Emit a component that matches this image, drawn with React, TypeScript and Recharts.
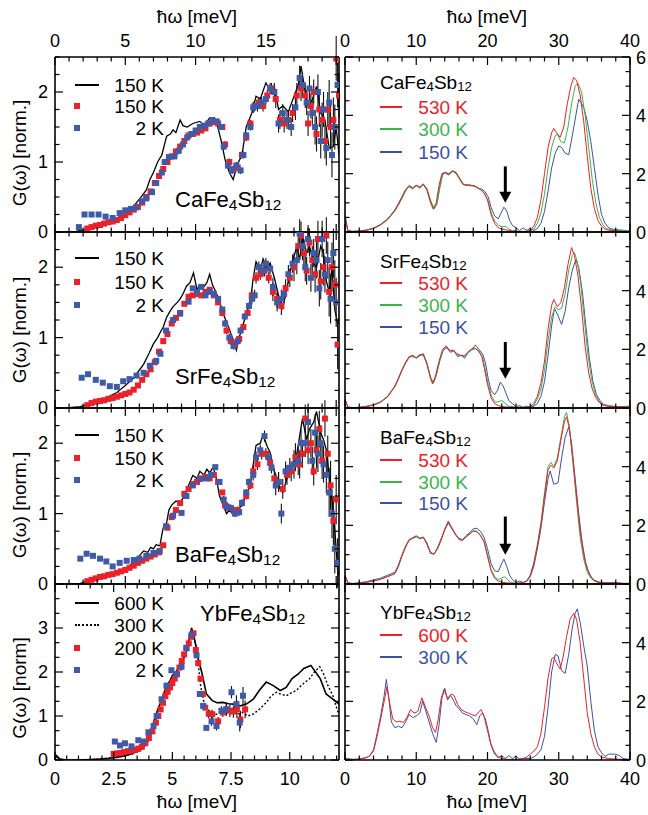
import React from "react";
import { ComposedChart, Line, Scatter, XAxis, YAxis, ReferenceLine, ErrorBar } from "recharts";

type Pt = [number, number];

// ---------- left column: G(w) vs energy, 0..20 meV ----------
const caBlack150: Pt[] = [[0.8,0.0],[1.5,0.01],[2,0.03],[2.5,0.05],[3.2,0.08],[3.7,0.12],[4.4,0.18],[5,0.25],[5.6,0.37],[6.2,0.52],[6.5,0.6],[6.75,0.75],[7,0.85],[7.3,1.0],[7.6,1.1],[7.94,1.37],[8.2,1.4],[8.4,1.46],[8.6,1.42],[8.9,1.6],[9.1,1.52],[9.4,1.5],[9.8,1.55],[10.3,1.58],[10.6,1.52],[11,1.63],[11.3,1.58],[11.5,1.56],[11.8,1.32],[12.1,1.03],[12.4,0.85],[12.67,0.75],[13,0.98],[13.3,1.1],[13.6,1.5],[14,1.7],[14.3,1.94],[14.6,1.9],[15.0,2.13],[15.3,2.03],[15.6,2.08],[15.9,1.75],[16.2,1.8],[16.6,1.72],[17.0,1.94],[17.3,2.1],[17.5,2.37],[17.8,2.0],[18.0,1.8],[18.3,1.89],[18.6,2.08],[18.9,1.7],[19.2,1.6],[19.5,1.2],[19.8,1.22],[20.0,1.5],[20.2,1.1]];
const caRed150: Pt[] = [[2.3,0.05],[2.6,0.07],[2.9,0.09],[3.2,0.1],[3.5,0.12],[3.8,0.14],[4.1,0.15],[4.4,0.17],[4.7,0.2],[5.0,0.24],[5.3,0.28],[5.6,0.32],[5.9,0.36],[6.2,0.42],[6.5,0.5],[6.8,0.58],[7.1,0.7],[7.4,0.8],[7.7,0.9],[8.0,1.0],[8.3,1.08],[8.6,1.15],[8.9,1.22],[9.2,1.3],[9.5,1.38],[9.8,1.4],[10.1,1.42],[10.4,1.45],[10.7,1.48],[11.0,1.55],[11.3,1.57],[11.6,1.55],[11.9,1.5],[12.1,1.25],[12.4,1.0],[12.7,0.9],[13.0,0.92],[13.3,1.1],[13.6,1.35],[13.9,1.55],[14.2,1.8],[14.5,1.85],[14.8,1.8],[15.1,1.95],[15.4,2.05],[15.7,1.9],[16.0,1.6],[16.3,1.55],[16.6,1.6],[16.9,1.7],[17.2,1.95],[17.5,2.05],[17.8,1.95],[18.0,1.55],[18.2,1.8],[18.4,2.0],[18.6,1.4],[18.8,1.75],[19.0,1.6],[19.2,1.3],[19.4,1.75],[19.6,1.5],[19.8,1.6],[20.0,2.48],[20.2,1.95]];
const caBlue2: Pt[] = [[1.7,0.07],[2.1,0.25],[2.6,0.25],[3.1,0.25],[3.6,0.22],[4.1,0.2],[4.6,0.27],[5.0,0.31],[5.4,0.33],[5.75,0.35],[6.2,0.44],[6.5,0.48],[6.9,0.57],[7.2,0.7],[7.6,0.85],[7.8,1.0],[8.1,1.07],[8.5,1.08],[8.8,1.16],[9.1,1.25],[9.4,1.35],[9.7,1.4],[10.0,1.45],[10.3,1.5],[10.6,1.52],[10.9,1.55],[11.2,1.6],[11.5,1.58],[11.8,1.5],[12.0,1.22],[12.3,0.95],[12.6,0.88],[12.9,0.95],[13.2,0.88],[13.4,1.1],[13.6,1.38],[13.9,1.5],[14.1,1.78],[14.4,1.8],[14.7,1.85],[15.0,1.9],[15.3,2.05],[15.6,2.0],[15.9,1.55],[16.2,1.7],[16.5,1.6],[16.8,1.5],[17.1,1.78],[17.4,2.2],[17.6,2.1],[17.9,1.85],[18.1,2.05],[18.3,1.7],[18.5,1.5],[18.7,2.0],[18.9,1.3],[19.1,1.75],[19.3,1.2],[19.5,1.85],[19.7,1.1],[19.9,1.5],[20.1,2.1]];

const srBlack150: Pt[] = [[0.8,0.0],[1.8,0.02],[2.5,0.06],[3.2,0.1],[3.8,0.16],[4.4,0.22],[5.0,0.32],[5.6,0.43],[6.3,0.62],[6.7,0.78],[7.0,0.91],[7.3,1.0],[7.5,1.08],[7.7,1.15],[7.94,1.29],[8.2,1.38],[8.4,1.44],[8.7,1.5],[8.9,1.55],[9.1,1.62],[9.35,1.73],[9.6,1.78],[9.85,1.92],[10.1,1.68],[10.3,1.75],[10.5,1.7],[10.8,1.78],[11.0,1.9],[11.2,1.75],[11.5,1.62],[11.8,1.45],[12.0,1.32],[12.4,1.12],[12.7,0.95],[12.9,0.82],[13.1,1.0],[13.4,1.2],[13.7,1.4],[13.9,1.52],[14.1,1.85],[14.3,2.08],[14.6,1.95],[14.8,2.12],[15.1,1.98],[15.3,2.06],[15.6,1.85],[15.9,1.6],[16.2,1.42],[16.5,1.7],[16.7,1.92],[17.0,2.15],[17.2,2.3],[17.4,2.1],[17.6,2.45],[17.9,2.2],[18.1,2.3],[18.4,2.05],[18.6,2.0],[18.9,2.3],[19.1,2.2],[19.3,1.8],[19.5,1.65],[19.7,2.0],[19.9,1.4],[20.1,1.2],[20.25,1.3]];
const srRed150: Pt[] = [[2.3,0.04],[2.6,0.07],[2.9,0.09],[3.2,0.1],[3.5,0.11],[3.8,0.13],[4.1,0.14],[4.4,0.16],[4.7,0.18],[5.0,0.2],[5.3,0.22],[5.6,0.26],[5.9,0.32],[6.2,0.4],[6.5,0.48],[6.8,0.55],[7.1,0.65],[7.4,0.8],[7.7,0.95],[8.0,1.05],[8.3,1.2],[8.6,1.28],[8.9,1.35],[9.2,1.48],[9.5,1.58],[9.8,1.6],[10.1,1.62],[10.4,1.6],[10.7,1.65],[11.0,1.68],[11.3,1.6],[11.6,1.5],[11.9,1.35],[12.2,1.1],[12.5,0.95],[12.8,0.92],[13.1,0.98],[13.4,1.15],[13.7,1.35],[14.0,1.6],[14.3,1.85],[14.6,1.9],[14.9,1.95],[15.2,1.85],[15.5,1.65],[15.8,1.55],[16.1,1.45],[16.4,1.7],[16.7,1.85],[17.0,2.0],[17.3,2.3],[17.5,2.45],[17.7,2.2],[17.9,1.95],[18.1,2.35],[18.3,2.1],[18.5,1.9],[18.7,2.4],[18.9,1.8],[19.1,2.0],[19.3,2.45],[19.5,1.65],[19.7,2.0],[19.9,1.75],[20.1,0.9]];
const srBlue2: Pt[] = [[1.9,0.43],[2.35,0.48],[2.9,0.4],[3.4,0.36],[3.9,0.31],[4.4,0.3],[4.85,0.38],[5.3,0.41],[5.8,0.46],[6.3,0.5],[6.75,0.6],[7.2,0.67],[7.5,0.77],[7.9,1.1],[8.4,1.25],[8.9,1.34],[9.5,1.51],[9.8,1.7],[10.1,1.65],[10.4,1.72],[10.7,1.6],[11.0,1.65],[11.3,1.62],[11.6,1.55],[11.9,1.4],[12.1,1.2],[12.4,1.0],[12.7,0.88],[13.0,0.95],[13.2,1.1],[13.5,1.3],[13.8,1.45],[14.0,1.55],[14.2,1.6],[14.5,2.0],[14.8,1.95],[15.0,2.05],[15.3,1.98],[15.5,1.72],[15.8,1.5],[16.1,1.55],[16.3,1.62],[16.6,1.9],[16.9,2.05],[17.2,2.1],[17.4,2.48],[17.6,2.3],[17.8,2.0],[18.0,2.4],[18.2,1.85],[18.4,2.2],[18.6,2.1],[18.8,1.7],[19.0,2.4],[19.2,1.9],[19.4,2.1],[19.6,1.55],[19.8,2.2],[20.0,1.5]];

const baBlack150: Pt[] = [[0.8,0.0],[1.8,0.01],[2.5,0.05],[3.2,0.09],[3.8,0.12],[4.4,0.16],[5.0,0.22],[5.6,0.3],[6.0,0.4],[6.3,0.47],[6.6,0.45],[6.8,0.52],[7.0,0.5],[7.2,0.56],[7.46,0.54],[7.6,0.7],[7.7,0.8],[7.94,0.87],[8.1,1.05],[8.3,1.12],[8.6,1.18],[8.9,1.15],[9.1,1.22],[9.4,1.35],[9.6,1.45],[9.8,1.54],[10.1,1.5],[10.3,1.6],[10.6,1.55],[10.8,1.63],[11.0,1.58],[11.25,1.66],[11.5,1.48],[11.7,1.25],[12.0,1.1],[12.2,1.0],[12.4,1.05],[12.7,0.98],[12.9,1.06],[13.2,1.1],[13.4,1.18],[13.7,1.3],[13.9,1.42],[14.1,1.7],[14.3,1.97],[14.6,2.0],[14.8,2.12],[15.1,1.95],[15.3,1.87],[15.6,1.6],[15.8,1.5],[16.0,1.35],[16.2,1.3],[16.5,1.5],[16.7,1.6],[17.0,1.75],[17.2,1.85],[17.4,2.1],[17.6,2.35],[17.9,2.05],[18.1,2.2],[18.4,2.3],[18.6,2.45],[18.9,2.15],[19.1,2.05],[19.3,1.9],[19.5,1.55],[19.7,1.2],[19.85,0.9],[20.0,0.5],[20.1,0.2],[20.25,0.1]];
const baRed150: Pt[] = [[2.3,0.04],[2.6,0.06],[2.9,0.08],[3.2,0.1],[3.5,0.11],[3.8,0.13],[4.1,0.14],[4.4,0.16],[4.7,0.18],[5.0,0.2],[5.3,0.23],[5.6,0.26],[5.9,0.3],[6.2,0.33],[6.5,0.36],[6.8,0.39],[7.1,0.42],[7.4,0.45],[7.7,0.55],[8.0,0.8],[8.3,0.95],[8.6,1.05],[8.9,1.15],[9.2,1.28],[9.5,1.35],[9.8,1.42],[10.1,1.45],[10.4,1.5],[10.7,1.52],[11.0,1.5],[11.3,1.55],[11.6,1.45],[11.9,1.3],[12.1,1.12],[12.4,1.08],[12.7,1.05],[13.0,1.05],[13.3,1.15],[13.6,1.25],[13.9,1.4],[14.1,1.6],[14.4,1.7],[14.7,1.85],[15.0,1.85],[15.3,1.72],[15.6,1.5],[15.9,1.45],[16.2,1.35],[16.5,1.55],[16.8,1.6],[17.1,1.8],[17.4,1.7],[17.6,1.85],[17.8,2.35],[18.0,1.9],[18.2,2.0],[18.4,1.6],[18.6,1.9],[18.8,2.2],[19.0,1.75],[19.2,2.35],[19.4,1.85],[19.6,1.4],[19.8,0.9],[20.0,1.2]];
const baBlue2: Pt[] = [[1.8,0.36],[2.25,0.43],[2.7,0.4],[3.2,0.36],[3.65,0.32],[4.1,0.25],[4.6,0.3],[5.1,0.33],[5.6,0.34],[6.0,0.36],[6.5,0.4],[7.0,0.44],[7.45,0.47],[7.9,0.82],[8.4,0.97],[9.0,1.01],[9.35,1.25],[9.8,1.4],[10.3,1.49],[10.8,1.5],[11.1,1.55],[11.4,1.66],[11.7,1.45],[12.0,1.2],[12.2,1.1],[12.5,1.08],[12.8,1.0],[13.1,1.02],[13.3,1.15],[13.6,1.3],[13.8,1.45],[14.1,1.55],[14.3,1.8],[14.6,1.9],[14.9,2.1],[15.2,1.8],[15.4,1.65],[15.7,1.4],[15.9,1.45],[16.1,1.0],[16.4,1.6],[16.7,1.65],[17.0,1.7],[17.3,1.75],[17.5,2.0],[17.8,2.0],[18.0,2.3],[18.3,1.75],[18.5,2.15],[18.7,1.85],[18.9,2.0],[19.1,1.7],[19.3,1.55],[19.5,1.3],[19.7,1.0],[19.9,0.5],[20.1,0.3]];

// error bar size of the square points, by energy band [from meV, +/- value]
const caErr: Pt[] = [[0,0.02],[9,0.03],[12,0.05],[14,0.08],[15.5,0.13],[17,0.18],[18.5,0.25],[19.5,0.32]];
const srErr: Pt[] = [[0,0.02],[9,0.03],[12,0.05],[14,0.08],[15.5,0.13],[17,0.2],[18.5,0.26],[19.5,0.35]];
const baErr: Pt[] = [[0,0.02],[9,0.03],[12,0.05],[14,0.08],[15.5,0.14],[17,0.2],[18.5,0.26],[19.5,0.35]];
const ybErr: Pt[] = [[0,0.02],[5,0.04],[6,0.06],[6.5,0.1],[7.2,0.14],[7.7,0.2]];

// ---------- YbFe4Sb12, 0..12 meV ----------
const ybBlack600: Pt[] = [[0,0.02],[0.07,0.1],[0.2,0.02],[0.5,0.0],[1.0,0.0],[1.5,0.01],[1.9,0.02],[2.3,0.04],[2.6,0.06],[3.0,0.1],[3.3,0.15],[3.6,0.22],[3.8,0.31],[4.0,0.5],[4.2,0.85],[4.35,1.1],[4.5,1.31],[4.6,1.45],[4.75,1.69],[4.9,1.8],[5.0,1.92],[5.15,2.0],[5.3,2.12],[5.45,2.3],[5.6,2.46],[5.7,2.7],[5.82,3.0],[5.9,2.85],[6.0,2.6],[6.1,2.3],[6.25,2.0],[6.45,1.5],[6.7,1.35],[6.9,1.3],[7.15,1.31],[7.4,1.28],[7.6,1.27],[7.9,1.23],[8.15,1.27],[8.45,1.38],[8.7,1.58],[9.0,1.77],[9.3,1.69],[9.6,1.58],[9.85,1.65],[10.1,1.85],[10.35,1.95],[10.6,2.08],[10.9,2.15],[11.1,2.0],[11.3,1.85],[11.55,1.5],[11.85,1.38],[12.1,1.27]];
const ybDot300: Pt[] = [[0,0.02],[0.07,0.08],[0.2,0.02],[0.5,0.0],[1.0,0.0],[1.5,0.01],[1.9,0.02],[2.3,0.04],[2.6,0.06],[3.0,0.1],[3.3,0.14],[3.6,0.2],[3.8,0.3],[4.0,0.45],[4.2,0.75],[4.4,1.1],[4.6,1.4],[4.8,1.65],[5.0,1.85],[5.2,2.0],[5.4,2.2],[5.6,2.45],[5.75,2.75],[5.9,2.9],[6.0,2.6],[6.1,2.2],[6.2,1.7],[6.35,1.3],[6.5,1.15],[6.7,1.05],[6.88,1.04],[7.1,1.1],[7.3,1.12],[7.59,1.12],[7.8,1.05],[8.0,1.08],[8.2,1.0],[8.44,1.04],[8.7,1.15],[9.01,1.31],[9.2,1.45],[9.43,1.54],[9.6,1.5],[9.86,1.46],[10.05,1.52],[10.28,1.58],[10.5,1.7],[10.85,1.85],[11.05,2.0],[11.28,2.12],[11.45,1.95],[11.63,1.69],[11.84,1.46],[12.06,1.08]];
const ybRed200: Pt[] = [[2.5,0.14],[2.65,0.15],[2.8,0.16],[2.95,0.18],[3.1,0.2],[3.25,0.21],[3.4,0.23],[3.55,0.26],[3.7,0.3],[3.85,0.38],[4.0,0.5],[4.15,0.65],[4.3,0.85],[4.4,1.0],[4.5,1.15],[4.6,1.3],[4.7,1.45],[4.8,1.55],[4.9,1.65],[5.0,1.75],[5.1,1.85],[5.2,1.95],[5.3,2.1],[5.4,2.25],[5.5,2.4],[5.6,2.55],[5.7,2.65],[5.8,2.8],[5.9,2.88],[6.0,2.5],[6.1,2.2],[6.2,1.85],[6.3,1.5],[6.4,1.19],[6.55,1.05],[6.7,1.04],[6.95,0.88],[7.15,1.08],[7.3,1.15],[7.45,1.12],[7.6,1.1],[7.75,1.15],[7.9,0.92],[8.1,1.15]];
const ybBlue2: Pt[] = [[2.55,0.42],[2.77,0.33],[2.98,0.38],[3.26,0.31],[3.55,0.45],[3.77,0.42],[3.98,0.63],[4.2,0.77],[4.33,1.0],[4.54,1.38],[4.75,1.69],[4.96,2.04],[5.18,1.95],[5.39,2.12],[5.6,2.54],[5.82,2.85],[6.03,2.38],[6.17,1.5],[6.31,1.23],[6.45,0.73],[6.67,0.88],[6.88,0.77],[7.09,1.12],[7.3,1.15],[7.52,1.54],[7.73,1.27],[7.87,0.85],[8.01,1.46]];

// ---------- right column: 0..40 meV ----------
const caR530: Pt[] = [[0,0.5],[0.4,0.05],[1,0.02],[2,0.03],[3,0.06],[4,0.12],[5,0.25],[6,0.45],[7,0.75],[7.5,0.95],[8,1.2],[8.5,1.45],[9,1.6],[9.5,1.52],[10,1.6],[10.5,1.55],[11,1.65],[11.5,1.45],[12,1.0],[12.4,0.78],[12.8,1.0],[13.2,1.6],[13.6,2.0],[14,2.05],[14.5,2.0],[15,2.08],[15.5,2.05],[16,1.85],[16.5,1.65],[17,1.6],[17.5,1.62],[18,1.58],[18.5,1.55],[19,1.45],[19.5,1.35],[20,1.1],[20.5,0.6],[21,0.3],[21.5,0.15],[22,0.1],[22.5,0.08],[23,0.05],[24,0.02],[25,0.01],[26,0.05],[26.5,0.2],[27,0.5],[27.5,1.1],[28,2.0],[28.5,2.9],[29,3.4],[29.3,3.55],[29.7,3.4],[30.2,3.25],[30.7,3.6],[31.2,4.4],[31.7,5.0],[32.1,5.3],[32.5,5.2],[33,4.7],[33.5,3.8],[34,2.6],[34.5,1.5],[35,0.8],[35.5,0.4],[36,0.2],[36.5,0.1],[37,0.06],[38,0.04],[39,0.02],[40,0.01]];
const caG300: Pt[] = [[0,0.4],[0.4,0.05],[1,0.02],[2,0.03],[3,0.06],[4,0.12],[5,0.24],[6,0.42],[7,0.72],[7.5,0.92],[8,1.15],[8.5,1.4],[9,1.58],[9.5,1.5],[10,1.58],[10.5,1.52],[11,1.62],[11.5,1.5],[12,1.1],[12.5,0.8],[12.9,0.95],[13.3,1.5],[13.7,1.95],[14.1,2.05],[14.6,1.98],[15.1,2.1],[15.6,2.05],[16.1,1.85],[16.6,1.65],[17.1,1.6],[17.6,1.6],[18.1,1.57],[18.6,1.52],[19.1,1.45],[19.6,1.3],[20.1,1.05],[20.6,0.6],[21.1,0.35],[21.6,0.22],[22.1,0.18],[22.5,0.2],[23,0.1],[23.5,0.05],[24,0.03],[25,0.02],[26,0.03],[26.5,0.1],[27,0.3],[27.5,0.65],[28,1.3],[28.5,2.2],[29,2.9],[29.5,3.3],[29.8,3.35],[30.3,3.1],[30.8,3.05],[31.3,3.6],[31.8,4.4],[32.3,5.0],[32.7,5.1],[33.2,4.8],[33.7,4.0],[34.2,2.9],[34.7,1.8],[35.2,1.0],[35.7,0.5],[36.2,0.25],[36.7,0.12],[37.5,0.07],[38.5,0.05],[39.5,0.03],[40,0.03]];
const caB150: Pt[] = [[0,0.6],[0.4,0.05],[1,0.02],[2,0.03],[3,0.07],[4,0.13],[5,0.26],[6,0.45],[7,0.75],[7.5,0.98],[8,1.2],[8.5,1.45],[9,1.55],[9.5,1.48],[10,1.6],[10.5,1.5],[11,1.62],[11.5,1.45],[12,1.05],[12.5,0.8],[12.9,0.98],[13.3,1.55],[13.7,2.0],[14.1,2.02],[14.6,1.95],[15.1,2.1],[15.6,2.0],[16.1,1.82],[16.6,1.62],[17.1,1.62],[17.6,1.58],[18.1,1.6],[18.6,1.5],[19.1,1.48],[19.6,1.4],[20.1,1.2],[20.5,0.85],[21,0.55],[21.5,0.45],[21.9,0.65],[22.3,0.85],[22.7,0.72],[23.1,0.4],[23.5,0.22],[24,0.15],[24.5,0.05],[25,0.14],[25.5,0.06],[26,0.12],[26.5,0.05],[27,0.12],[27.5,0.3],[28,0.7],[28.5,1.4],[29,2.2],[29.5,2.7],[30,2.95],[30.4,2.9],[30.9,2.7],[31.4,2.65],[31.9,3.3],[32.4,4.0],[32.8,4.55],[33.2,4.4],[33.6,4.2],[34,3.8],[34.5,3.1],[35,2.2],[35.5,1.3],[36,0.6],[36.5,0.3],[37,0.15],[37.5,0.1],[38,0.08],[39,0.06],[40,0.03]];

const srR530: Pt[] = [[0,0.3],[0.4,0.03],[1,0.01],[2,0.02],[3,0.05],[4,0.1],[5,0.2],[6,0.4],[7,0.75],[7.5,1.0],[8,1.3],[8.5,1.55],[9,1.75],[9.5,1.8],[10,1.7],[10.5,1.8],[11,1.85],[11.5,1.5],[12,1.0],[12.3,0.82],[12.7,1.1],[13.2,1.6],[13.7,2.0],[14.2,2.12],[14.7,1.95],[15.2,1.98],[15.7,1.85],[16.2,1.8],[16.7,1.78],[17.2,1.9],[17.7,2.0],[18.2,2.05],[18.7,1.95],[19.2,1.75],[19.6,1.3],[20,0.8],[20.5,0.35],[21,0.15],[21.5,0.08],[22,0.05],[23,0.03],[24,0.02],[25,0.02],[26,0.05],[26.5,0.15],[27,0.4],[27.5,0.85],[28,1.6],[28.5,2.7],[29,3.5],[29.3,3.7],[29.8,3.45],[30.3,3.6],[30.8,4.1],[31.3,4.9],[31.8,5.47],[32.2,5.2],[32.7,4.5],[33.2,3.4],[33.7,2.1],[34.2,1.2],[34.7,0.65],[35.2,0.35],[35.7,0.18],[36.2,0.1],[37,0.05],[38,0.04],[39,0.05],[40,0.03]];
const srG300: Pt[] = [[0,0.3],[0.4,0.03],[1,0.01],[2,0.02],[3,0.05],[4,0.1],[5,0.2],[6,0.38],[7,0.72],[7.5,0.98],[8,1.28],[8.5,1.52],[9,1.72],[9.5,1.78],[10,1.7],[10.5,1.78],[11,1.82],[11.5,1.55],[12,1.05],[12.4,0.85],[12.8,1.1],[13.3,1.6],[13.8,2.0],[14.3,2.08],[14.8,1.95],[15.3,1.95],[15.8,1.8],[16.3,1.78],[16.8,1.75],[17.3,1.88],[17.8,1.98],[18.3,2.02],[18.8,1.95],[19.3,1.75],[19.7,1.3],[20.1,0.8],[20.6,0.38],[21.1,0.2],[21.6,0.22],[22,0.25],[22.5,0.15],[23,0.06],[24,0.03],[25,0.02],[26,0.04],[26.5,0.1],[27,0.3],[27.5,0.65],[28,1.3],[28.5,2.3],[29,3.1],[29.5,3.45],[29.9,3.35],[30.4,3.4],[30.9,3.9],[31.4,4.7],[31.9,5.2],[32.2,5.3],[32.6,5.0],[33.1,4.2],[33.6,3.0],[34.1,1.8],[34.6,1.0],[35.1,0.5],[35.6,0.25],[36.1,0.12],[37,0.06],[38,0.04],[39,0.03],[40,0.08]];
const srB150: Pt[] = [[0,0.3],[0.4,0.03],[1,0.01],[2,0.02],[3,0.06],[4,0.11],[5,0.21],[6,0.4],[7,0.73],[7.5,1.02],[8,1.3],[8.5,1.55],[9,1.75],[9.5,1.75],[10,1.72],[10.5,1.82],[11,1.8],[11.5,1.5],[12,1.05],[12.4,0.85],[12.8,1.1],[13.3,1.62],[13.8,1.98],[14.3,2.05],[14.8,1.9],[15.3,1.95],[15.8,1.75],[16.3,1.8],[16.8,1.7],[17.3,1.9],[17.8,2.0],[18.3,2.15],[18.8,2.0],[19.3,1.85],[19.7,1.55],[20.1,1.0],[20.5,0.6],[21,0.45],[21.4,0.6],[21.8,0.88],[22.2,0.75],[22.6,0.5],[23,0.25],[23.5,0.15],[24,0.05],[24.5,0.08],[25,0.02],[25.5,0.06],[26,0.03],[26.5,0.06],[27,0.15],[27.5,0.4],[28,0.9],[28.5,1.8],[29,2.8],[29.4,3.4],[29.8,3.2],[30.4,2.85],[30.9,3.3],[31.4,4.1],[31.9,4.7],[32.4,5.06],[32.8,4.8],[33.3,4.0],[33.8,2.8],[34.3,1.7],[34.8,0.9],[35.3,0.45],[35.8,0.25],[36.3,0.12],[37,0.08],[38,0.05],[39,0.03],[40,0.02]];

const baR530: Pt[] = [[0,0.3],[0.4,0.03],[1,0.01],[2,0.03],[3,0.06],[4,0.1],[5,0.16],[6,0.25],[6.5,0.3],[7,0.35],[7.5,0.6],[8,0.95],[8.5,1.25],[9,1.5],[9.5,1.55],[10,1.62],[10.5,1.55],[11,1.58],[11.5,1.35],[12,1.05],[12.5,1.02],[13,1.2],[13.5,1.5],[14,1.85],[14.5,2.12],[15,1.9],[15.5,1.7],[16,1.52],[16.5,1.48],[17,1.6],[17.5,1.7],[18,1.8],[18.5,1.78],[19,1.65],[19.5,1.45],[20,0.95],[20.5,0.45],[21,0.2],[21.5,0.1],[22,0.06],[23,0.03],[24,0.02],[25,0.05],[25.5,0.1],[26,0.3],[26.5,0.7],[27,1.3],[27.5,2.0],[28,3.0],[28.5,3.9],[28.9,4.05],[29.3,3.95],[29.8,4.2],[30.3,4.9],[30.8,5.55],[31.1,5.7],[31.5,5.3],[32,4.2],[32.5,3.0],[33,1.8],[33.5,1.0],[34,0.5],[34.5,0.25],[35,0.12],[35.5,0.06],[36,0.04],[37,0.03],[38,0.05],[39,0.02],[40,0.02]];
const baG300: Pt[] = [[0,0.3],[0.4,0.03],[1,0.01],[2,0.03],[3,0.06],[4,0.1],[5,0.17],[6,0.26],[6.5,0.31],[7,0.37],[7.5,0.62],[8,0.98],[8.5,1.28],[9,1.52],[9.5,1.58],[10,1.65],[10.5,1.57],[11,1.6],[11.5,1.37],[12,1.05],[12.5,1.02],[13,1.22],[13.5,1.52],[14,1.88],[14.5,2.15],[15,1.92],[15.5,1.7],[16,1.52],[16.5,1.5],[17,1.62],[17.5,1.72],[18,1.82],[18.5,1.8],[19,1.68],[19.5,1.45],[20,1.0],[20.5,0.5],[21,0.25],[21.5,0.15],[22,0.2],[22.4,0.25],[22.8,0.15],[23.3,0.05],[24,0.02],[25,0.04],[25.5,0.1],[26,0.3],[26.5,0.72],[27,1.35],[27.5,2.1],[28,3.1],[28.5,4.0],[28.9,4.15],[29.3,4.0],[29.8,4.3],[30.3,5.0],[30.8,5.7],[31.1,5.85],[31.5,5.35],[32,4.1],[32.5,2.8],[33,1.6],[33.5,0.85],[34,0.4],[34.5,0.2],[35,0.1],[35.5,0.06],[36,0.04],[37,0.04],[38,0.03],[39,0.02],[40,0.02]];
const baB150: Pt[] = [[0,0.3],[0.4,0.04],[1,0.02],[2,0.04],[3,0.08],[4,0.14],[5,0.2],[6,0.3],[6.5,0.35],[7,0.4],[7.5,0.65],[8,1.0],[8.5,1.3],[9,1.5],[9.5,1.58],[10,1.62],[10.5,1.55],[11,1.6],[11.5,1.4],[12,1.08],[12.5,1.02],[13,1.25],[13.5,1.55],[14,1.85],[14.5,2.08],[15,1.88],[15.5,1.68],[16,1.55],[16.5,1.52],[17,1.65],[17.5,1.75],[18,1.88],[18.5,1.9],[19,1.8],[19.5,1.6],[20,1.2],[20.5,0.7],[21,0.45],[21.5,0.42],[22,0.7],[22.3,0.85],[22.7,0.6],[23.1,0.3],[23.5,0.15],[24,0.05],[24.5,0.1],[25,0.05],[25.5,0.1],[26,0.25],[26.5,0.6],[27,1.2],[27.5,1.9],[28,2.8],[28.5,3.6],[28.8,3.85],[29.3,3.4],[29.9,3.45],[30.4,4.3],[30.9,5.0],[31.4,5.35],[31.8,4.8],[32.3,3.6],[32.8,2.4],[33.3,1.4],[33.8,0.7],[34.3,0.35],[34.8,0.15],[35.5,0.08],[36,0.05],[37,0.04],[38,0.03],[39,0.02],[40,0.02]];

const ybR600: Pt[] = [[0,0.05],[1,0.02],[2,0.03],[3,0.08],[3.5,0.15],[4,0.3],[4.5,0.8],[5,1.4],[5.5,2.0],[5.9,2.5],[6.3,1.9],[6.7,1.4],[7.2,1.3],[7.7,1.32],[8.2,1.28],[8.7,1.45],[9.2,1.72],[9.7,1.6],[10.2,1.65],[10.8,2.12],[11.3,1.8],[11.8,1.5],[12.3,1.1],[12.7,0.94],[13.1,1.4],[13.5,2.1],[13.9,2.4],[14.4,2.1],[14.9,2.25],[15.3,2.2],[15.8,1.9],[16.3,1.72],[16.8,1.65],[17.3,1.6],[17.8,1.55],[18.3,1.5],[18.8,1.65],[19.1,1.72],[19.5,1.5],[19.9,1.1],[20.4,0.6],[20.9,0.3],[21.4,0.12],[22,0.05],[23,0.02],[24,0.02],[25,0.05],[25.5,0.1],[26,0.2],[26.5,0.3],[27,0.45],[27.5,0.9],[28,1.8],[28.5,2.8],[29,3.45],[29.3,3.5],[29.7,3.3],[30.2,3.1],[30.6,3.5],[31.1,4.2],[31.6,4.8],[32.1,5.0],[32.5,4.8],[33,4.0],[33.5,2.8],[34,1.6],[34.5,0.9],[35,0.45],[35.5,0.2],[36,0.1],[37,0.05],[38,0.03],[39,0.02],[40,0.01]];
const ybB300: Pt[] = [[0,0.05],[1,0.02],[2,0.03],[3,0.08],[3.5,0.15],[4,0.35],[4.5,0.9],[5,1.5],[5.5,2.2],[5.8,2.75],[6.2,2.0],[6.5,1.3],[7,1.1],[7.5,1.15],[8,1.1],[8.5,1.3],[9,1.55],[9.5,1.45],[10,1.5],[10.5,1.6],[10.9,2.0],[11.3,1.7],[11.8,1.3],[12.3,0.9],[12.8,0.6],[13.2,1.2],[13.6,2.1],[14,2.45],[14.4,2.05],[14.8,2.2],[15.2,2.05],[15.6,1.85],[16,1.75],[16.5,1.6],[17,1.55],[17.5,1.5],[18,1.4],[18.5,1.2],[18.9,1.5],[19.3,1.6],[19.7,1.4],[20.1,1.0],[20.5,0.5],[21,0.2],[21.5,0.08],[22,0.15],[22.5,0.05],[23,0.15],[23.5,0.05],[24,0.13],[24.5,0.03],[25,0.05],[26,0.05],[26.5,0.1],[27,0.2],[27.5,0.35],[28,0.8],[28.5,1.8],[29,3.0],[29.5,3.6],[29.9,3.55],[30.4,3.05],[30.9,2.95],[31.4,3.6],[31.9,4.5],[32.3,5.0],[32.6,5.15],[33,4.7],[33.5,3.9],[34,3.2],[34.5,2.0],[35,1.0],[35.5,0.45],[36,0.25],[36.5,0.12],[37,0.2],[38,0.2],[38.5,0.15],[39,0.05],[40,0.02]];

// ---------- ticks ----------
const leftXTicks = [0,1,2,3,4,5,6,7,8,9,10,11,12,13,14,15,16,17,18,19,20];
const leftXMajor = [0,5,10,15,20];
const leftXLabels = [0,5,10,15];
const ybXTicks = [0,0.5,1,1.5,2,2.5,3,3.5,4,4.5,5,5.5,6,6.5,7,7.5,8,8.5,9,9.5,10,10.5,11,11.5,12];
const ybXMajor = [0,2.5,5,7.5,10];
const rightXTicks = [0,2,4,6,8,10,12,14,16,18,20,22,24,26,28,30,32,34,36,38,40];
const rightXMajor = [0,10,20,30,40];
const leftYTicks = [0,0.25,0.5,0.75,1,1.25,1.5,1.75,2,2.25,2.5];
const leftYMajor = [0,1,2];
const ybYTicks = [0,1/3,2/3,1,4/3,5/3,2,7/3,8/3,3,10/3,11/3,4];
const ybYMajor = [0,1,2,3,4];
const rightYTicks = [0,0.5,1,1.5,2,2.5,3,3.5,4,4.5,5,5.5,6];
const rightYMajor = [0,2,4,6];

const RED = "#ec2027";
const GREEN = "#3bb44a";
const BLUE = "#3b52a4";
const SQ_BLUE = "#3d5ba9";
const FONT = '"Liberation Sans", Arial, Helvetica, sans-serif';

const LEFT = { x: 55, w: 284 };
const RIGHT = { x: 345, w: 285 };
const ROWS = [
  { y: 57, h: 175 },
  { y: 232, h: 176 },
  { y: 408, h: 176 },
  { y: 584, h: 176 },
];

const toXY = (a: Pt[]) => a.map(([x, y]) => ({ x, y }));
const bandValue = (bands: Pt[], x: number) => {
  let v = bands[0][1];
  for (const [from, e] of bands) if (x >= from) v = e;
  return v;
};
const toXYE = (a: Pt[], bands: Pt[]) => a.map(([x, y]) => ({ x, y, e: bandValue(bands, x) }));
const inList = (arr: number[], v: number) => arr.some((m) => Math.abs(m - v) < 1e-6);

type Side = "top" | "bottom" | "left" | "right";

function tickMaker(side: Side, majors: number[], labels: number[]) {
  return (props: any) => {
    const { x, y, payload } = props;
    const v = payload.value;
    const len = inList(majors, v) ? 8 : 4.5;
    const show = inList(labels, v);
    let mark;
    let text = null;
    const ts = { fontSize: 18, fontFamily: FONT, fill: "#000" };
    if (side === "bottom") {
      mark = <line x1={x} y1={y} x2={x} y2={y - len} />;
      if (show) text = <text x={x} y={y + 25} textAnchor="middle" style={ts}>{String(v)}</text>;
    } else if (side === "top") {
      mark = <line x1={x} y1={y} x2={x} y2={y + len} />;
      if (show) text = <text x={x} y={y - 10} textAnchor="middle" style={ts}>{String(v)}</text>;
    } else if (side === "left") {
      mark = <line x1={x} y1={y} x2={x + len} y2={y} />;
      if (show) text = <text x={x - 7} y={y + 6} textAnchor="end" style={ts}>{String(v)}</text>;
    } else {
      mark = <line x1={x} y1={y} x2={x - len} y2={y} />;
      if (show) text = <text x={x + 6} y={y + 7} textAnchor="start" style={ts}>{String(v)}</text>;
    }
    return (
      <g>
        <g stroke="#000" strokeWidth={1.2}>{mark}</g>
        {text}
      </g>
    );
  };
}

const axisLine = { stroke: "#000", strokeWidth: 1.6 };

interface PanelProps {
  col: { x: number; w: number };
  row: { y: number; h: number };
  xDomain: [number, number];
  yDomain: [number, number];
  xTicks: number[];
  xMajor: number[];
  yTicks: number[];
  yMajor: number[];
  topLabels?: number[];
  bottomLabels?: number[];
  leftLabels?: number[];
  rightLabels?: number[];
  children: React.ReactNode;
}

function Panel({ col, row, xDomain, yDomain, xTicks, xMajor, yTicks, yMajor, topLabels = [], bottomLabels = [], leftLabels = [], rightLabels = [], children }: PanelProps) {
  const M = 50;
  const m = M - 1; // axes take 1px each
  return (
    <div style={{ position: "absolute", left: col.x - M, top: row.y - M }}>
      <ComposedChart width={col.w + 2 * M} height={row.h + 2 * M} margin={{ top: m, right: m, bottom: m, left: m }}>
        <XAxis xAxisId="b" orientation="bottom" type="number" dataKey="x" domain={xDomain} allowDataOverflow ticks={xTicks} interval={0} height={1} tickSize={0} tickMargin={0} axisLine={axisLine} tickLine={false} tick={tickMaker("bottom", xMajor, bottomLabels)} />
        <XAxis xAxisId="t" orientation="top" type="number" dataKey="x" domain={xDomain} allowDataOverflow ticks={xTicks} interval={0} height={1} tickSize={0} tickMargin={0} axisLine={axisLine} tickLine={false} tick={tickMaker("top", xMajor, topLabels)} />
        <YAxis yAxisId="l" orientation="left" type="number" dataKey="y" domain={yDomain} allowDataOverflow ticks={yTicks} interval={0} width={1} tickSize={0} tickMargin={0} axisLine={axisLine} tickLine={false} tick={tickMaker("left", yMajor, leftLabels)} />
        <YAxis yAxisId="r" orientation="right" type="number" dataKey="y" domain={yDomain} allowDataOverflow ticks={yTicks} interval={0} width={1} tickSize={0} tickMargin={0} axisLine={axisLine} tickLine={false} tick={tickMaker("right", yMajor, rightLabels)} />
        {children}
      </ComposedChart>
    </div>
  );
}

const square = (color: string) => (p: any) =>
  p.cx == null || p.cy == null ? <g /> : <rect x={p.cx - 3} y={p.cy - 3} width={6} height={6} fill={color} />;

const line = (key: string, pts: Pt[], color: string, width = 1, dash?: string) => (
  <Line key={key} data={toXY(pts)} dataKey="y" xAxisId="b" yAxisId="l" type="linear" stroke={color} strokeWidth={width} strokeDasharray={dash} dot={false} activeDot={false} isAnimationActive={false} />
);

const dots = (key: string, pts: Pt[], color: string, bands: Pt[]) => (
  <Scatter key={key} data={toXYE(pts, bands)} dataKey="y" xAxisId="b" yAxisId="l" fill={color} shape={square(color)} isAnimationActive={false}>
    <ErrorBar dataKey="e" direction="y" width={0} stroke="#111" strokeWidth={1.1} isAnimationActive={false} />
  </Scatter>
);

const arrowShape = (p: any) => {
  const { x1, y1, x2, y2 } = p;
  return (
    <g>
      <line x1={x1} y1={y1} x2={x2} y2={y2 - 9} stroke="#000" strokeWidth={3} />
      <polygon points={`${x2 - 6},${y2 - 11} ${x2 + 6},${y2 - 11} ${x2},${y2}`} fill="#000" />
    </g>
  );
};

const arrow = (top: number, tip: number) => (
  <ReferenceLine key="arrow" xAxisId="b" yAxisId="l" segment={[{ x: 22.5, y: top }, { x: 22.5, y: tip }]} shape={arrowShape} ifOverflow="visible" />
);

const subStyle: React.CSSProperties = { fontSize: "0.7em", position: "relative", top: "0.2em" };
const Compound = ({ el }: { el: string }) => (
  <>
    {el}Fe<span style={subStyle}>4</span>Sb<span style={subStyle}>12</span>
  </>
);

function Txt({ x, y, size, color = "#000", align = "left", width = 200, children }: { x: number; y: number; size: number; color?: string; align?: "left" | "right" | "center"; width?: number; children: React.ReactNode }) {
  const left = align === "left" ? x : align === "right" ? x - width : x - width / 2;
  const lh = Math.round(size * 1.0);
  return (
    <div style={{ position: "absolute", left, top: y - lh / 2, width, height: lh, lineHeight: `${lh}px`, fontSize: size, color, textAlign: align, whiteSpace: "nowrap", fontFamily: FONT }}>
      {children}
    </div>
  );
}

function LineSwatch({ x, y, w, color, dotted }: { x: number; y: number; w: number; color: string; dotted?: boolean }) {
  if (dotted) return <div style={{ position: "absolute", left: x, top: y - 1, width: w, height: 0, borderTop: `2px dotted ${color}` }} />;
  return <div style={{ position: "absolute", left: x, top: y - 1, width: w, height: 1.6, background: color }} />;
}
function SquareSwatch({ x, y, color }: { x: number; y: number; color: string }) {
  return <div style={{ position: "absolute", left: x - 3, top: y - 3, width: 6, height: 6, background: color }} />;
}

function LeftLegend({ ys, entries }: { ys: number[]; entries: { kind: "line" | "dotted" | "square"; color: string; label: string }[] }) {
  return (
    <>
      {entries.map((e, i) => (
        <React.Fragment key={i}>
          {e.kind === "square" ? <SquareSwatch x={77} y={ys[i]} color={e.color} /> : <LineSwatch x={75} y={ys[i]} w={24} color="#000" dotted={e.kind === "dotted"} />}
          <Txt x={164} y={ys[i]} size={19} align="right" width={62}>{e.label}</Txt>
        </React.Fragment>
      ))}
    </>
  );
}

function RightLegend({ el, ys, entries }: { el: string; ys: number[]; entries: { color: string; label: string }[] }) {
  return (
    <>
      <Txt x={380} y={ys[0]} size={19} width={110}><Compound el={el} /></Txt>
      {entries.map((e, i) => (
        <React.Fragment key={i}>
          <LineSwatch x={380} y={ys[i + 1]} w={22} color={e.color} />
          <Txt x={468} y={ys[i + 1]} size={19} color={e.color} align="right" width={60}>{e.label}</Txt>
        </React.Fragment>
      ))}
    </>
  );
}

export default function App() {
  const leftCommon = { col: LEFT, xDomain: [0, 20.2] as [number, number], yDomain: [0, 2.5] as [number, number], xTicks: leftXTicks, xMajor: leftXMajor, yTicks: leftYTicks, yMajor: leftYMajor, leftLabels: [0, 1, 2] };
  const rightCommon = { col: RIGHT, xDomain: [0, 40] as [number, number], yDomain: [0, 6] as [number, number], xTicks: rightXTicks, xMajor: rightXMajor, yTicks: rightYTicks, yMajor: rightYMajor };
  const leftEntries = [
    { kind: "line" as const, color: "#000", label: "150 K" },
    { kind: "square" as const, color: RED, label: "150 K" },
    { kind: "square" as const, color: SQ_BLUE, label: "2 K" },
  ];
  const rightEntries = [
    { color: RED, label: "530 K" },
    { color: GREEN, label: "300 K" },
    { color: BLUE, label: "150 K" },
  ];

  return (
    <div style={{ position: "absolute", left: 0, top: 0, width: 648, height: 815, background: "#fff", fontFamily: FONT, overflow: "hidden" }}>
      {/* left column */}
      <Panel {...leftCommon} row={ROWS[0]} topLabels={leftXLabels}>
        {[line("k", caBlack150, "#000", 1.3), dots("r", caRed150, RED, caErr), dots("b", caBlue2, SQ_BLUE, caErr)]}
      </Panel>
      <Panel {...leftCommon} row={ROWS[1]}>
        {[line("k", srBlack150, "#000", 1.3), dots("r", srRed150, RED, srErr), dots("b", srBlue2, SQ_BLUE, srErr)]}
      </Panel>
      <Panel {...leftCommon} row={ROWS[2]}>
        {[line("k", baBlack150, "#000", 1.3), dots("r", baRed150, RED, baErr), dots("b", baBlue2, SQ_BLUE, baErr)]}
      </Panel>
      <Panel col={LEFT} row={ROWS[3]} xDomain={[0, 12.1]} yDomain={[0, 4]} xTicks={ybXTicks} xMajor={ybXMajor} yTicks={ybYTicks} yMajor={ybYMajor} bottomLabels={[0, 2.5, 5, 7.5, 10]} leftLabels={[0, 1, 2, 3]}>
        {[line("k", ybBlack600, "#000", 1.6), line("d", ybDot300, "#000", 1.4, "2 2"), dots("r", ybRed200, RED, ybErr), dots("b", ybBlue2, SQ_BLUE, ybErr)]}
      </Panel>

      {/* right column */}
      <Panel {...rightCommon} row={ROWS[0]} topLabels={[0, 10, 20, 30, 40]} rightLabels={[0, 2, 4, 6]}>
        {[line("b", caB150, BLUE), line("g", caG300, GREEN), line("r", caR530, RED), arrow(2.25, 1.0)]}
      </Panel>
      <Panel {...rightCommon} row={ROWS[1]} rightLabels={[0, 2, 4]}>
        {[line("b", srB150, BLUE), line("g", srG300, GREEN), line("r", srR530, RED), arrow(2.25, 1.0)]}
      </Panel>
      <Panel {...rightCommon} row={ROWS[2]} rightLabels={[0, 2, 4]}>
        {[line("b", baB150, BLUE), line("g", baG300, GREEN), line("r", baR530, RED), arrow(2.3, 1.0)]}
      </Panel>
      <Panel {...rightCommon} row={ROWS[3]} bottomLabels={[0, 10, 20, 30, 40]} rightLabels={[0, 2, 4]}>
        {[line("b", ybB300, BLUE), line("r", ybR600, RED)]}
      </Panel>

      {/* axis titles */}
      <Txt x={197} y={16} size={19} align="center">ħω [meV]</Txt>
      <Txt x={487} y={16} size={19} align="center">ħω [meV]</Txt>
      <Txt x={197} y={801} size={19} align="center">ħω [meV]</Txt>
      <Txt x={487} y={801} size={19} align="center">ħω [meV]</Txt>
      {[153, 330, 505, 688].map((cy, i) => (
        <div key={i} style={{ position: "absolute", left: 20 - 75, top: cy - 10, width: 150, height: 20, lineHeight: "20px", textAlign: "center", fontSize: 19, transform: "rotate(-90deg)", whiteSpace: "nowrap" }}>
          {i === 3 ? "G(ω) [norm]" : "G(ω) [norm.]"}
        </div>
      ))}

      {/* left legends and labels */}
      <LeftLegend ys={[85, 106, 128]} entries={leftEntries} />
      <LeftLegend ys={[258, 282, 305]} entries={leftEntries} />
      <LeftLegend ys={[435, 458, 480]} entries={leftEntries} />
      <LeftLegend
        ys={[603, 625, 648, 670]}
        entries={[
          { kind: "line", color: "#000", label: "600 K" },
          { kind: "dotted", color: "#000", label: "300 K" },
          { kind: "square", color: RED, label: "200 K" },
          { kind: "square", color: SQ_BLUE, label: "2 K" },
        ]}
      />
      <Txt x={175} y={200} size={22} width={130}><Compound el="Ca" /></Txt>
      <Txt x={175} y={377} size={22} width={130}><Compound el="Sr" /></Txt>
      <Txt x={175} y={555} size={22} width={130}><Compound el="Ba" /></Txt>
      <Txt x={200} y={614} size={22} width={130}><Compound el="Yb" /></Txt>

      {/* right legends */}
      <RightLegend el="Ca" ys={[82, 107, 129, 152]} entries={rightEntries} />
      <RightLegend el="Sr" ys={[261, 283, 305, 327]} entries={rightEntries} />
      <RightLegend el="Ba" ys={[437, 460, 482, 503]} entries={rightEntries} />
      <RightLegend el="Yb" ys={[612, 635, 657]} entries={[{ color: RED, label: "600 K" }, { color: BLUE, label: "300 K" }]} />
    </div>
  );
}
